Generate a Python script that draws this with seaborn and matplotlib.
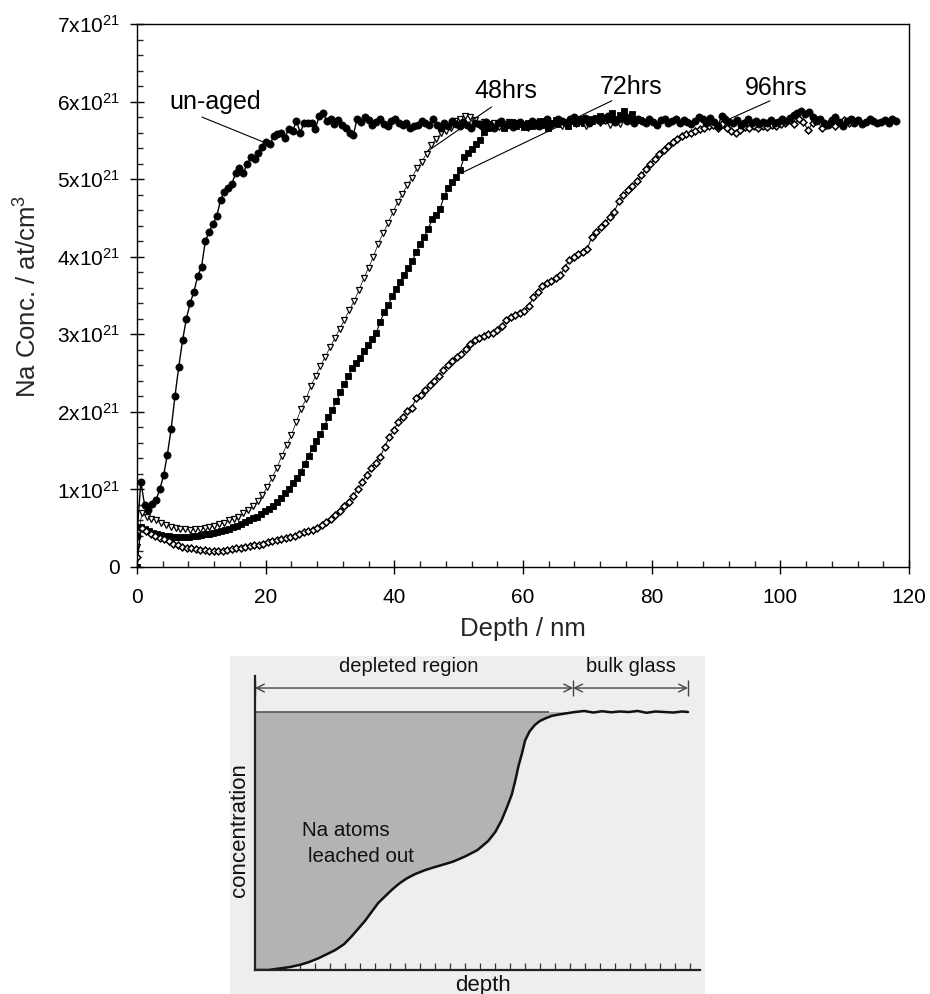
import numpy as np
import matplotlib
matplotlib.use("Agg")
import matplotlib.pyplot as plt
import seaborn as sns
from matplotlib.ticker import MultipleLocator, FixedLocator, NullFormatter

# ---------------- data (Na concentration in units of 1e19 at/cm^3) ----------------
UNAGED_STEP = 0.59   # nm between sputter points
unaged_conc = [
    40, 110, 80, 74, 81, 86, 100, 118, 145, 178, 220, 258, 292, 320, 340, 355, 375, 387, 420, 432,
    442, 452, 473, 484, 488, 494, 508, 514, 508, 519, 528, 526, 534, 542, 548, 545, 555, 558, 559, 553,
    565, 562, 575, 560, 572, 572, 572, 564, 582, 585, 575, 578, 571, 576, 570, 566, 560, 557, 578, 574,
    580, 576, 570, 574, 578, 571, 568, 575, 578, 572, 570, 572, 566, 568, 570, 575, 572, 570, 578, 570,
    566, 572, 569, 575, 571, 568, 574, 570, 566, 573, 571, 568, 574, 570, 566, 572, 575, 569, 572, 567,
    571, 574, 570, 568, 575, 572, 569, 574, 577, 571, 573, 578, 575, 572, 577, 580, 574, 576, 579, 573,
    576, 578, 575, 579, 582, 577, 574, 578, 580, 575, 577, 572, 578, 575, 572, 577, 574, 570, 576, 578,
    572, 575, 578, 573, 576, 574, 571, 575, 580, 577, 573, 579, 574, 568, 581, 578, 574, 572, 576, 570,
    573, 577, 572, 575, 571, 574, 573, 576, 572, 574, 578, 575, 579, 583, 585, 588, 584, 587, 580, 575,
    578, 573, 570, 576, 580, 574, 569, 575, 578, 572, 576, 571, 574, 578, 575, 572, 574, 576, 573, 577,
    575,
]

H48_STEP = 0.75
h48_conc = [
    26, 70, 65, 62, 60, 57, 54, 52, 50, 49, 49, 48, 49, 49, 50, 51, 53, 55, 57, 60,
    62, 65, 69, 73, 78, 85, 93, 103, 115, 128, 143, 157, 170, 187, 204, 216, 233, 246, 259, 271,
    283, 295, 307, 319, 331, 343, 357, 372, 386, 400, 417, 430, 443, 457, 470, 481, 492, 502, 514, 522,
    533, 544, 552, 559, 562, 566, 575, 578, 582, 580, 576, 571, 574, 569, 572, 567, 571, 574, 568, 572,
    570, 566, 573, 569, 572, 575, 570, 574, 568, 572, 576, 571, 574, 569, 573, 577, 572, 575, 570, 574,
    571,
]

H72_STEP = 0.62
h72_conc = [
    0, 52, 49, 47, 44, 42, 41, 40, 40, 39, 39, 39, 39, 39, 40, 40, 41, 42, 43, 44,
    45, 46, 48, 49, 51, 53, 56, 58, 60, 63, 65, 68, 72, 75, 79, 84, 89, 95, 101, 108,
    115, 122, 133, 143, 153, 163, 172, 182, 193, 203, 214, 225, 236, 246, 256, 263, 270, 278, 286, 294,
    302, 316, 329, 338, 349, 358, 368, 377, 385, 394, 406, 416, 426, 436, 448, 454, 462, 478, 488, 496,
    503, 512, 528, 534, 539, 545, 550, 561, 566, 571, 568, 572, 566, 570, 574, 568, 571, 567, 573, 569,
    572, 575, 570, 566, 572, 576, 571, 574, 569, 575, 573, 577, 572, 578, 575, 579, 582, 576, 580, 585,
    578, 583, 588, 580, 584, 578, 576,
]

H96_STEP = 0.70
h96_conc = [
    13, 50, 46, 43, 40, 38, 36, 33, 30, 28, 26, 25, 24, 23, 22, 22, 21, 21, 21, 21,
    22, 23, 24, 25, 26, 27, 28, 29, 30, 32, 33, 35, 36, 37, 39, 40, 42, 45, 46, 48,
    50, 54, 58, 62, 67, 72, 78, 84, 92, 100, 109, 119, 127, 134, 142, 155, 167, 176, 187, 193,
    201, 205, 218, 222, 228, 234, 240, 246, 254, 260, 266, 271, 275, 281, 287, 292, 295, 298, 300, 302,
    306, 311, 319, 322, 325, 327, 330, 336, 348, 355, 362, 366, 369, 372, 376, 386, 396, 400, 403, 406,
    410, 426, 432, 438, 444, 451, 458, 472, 479, 486, 491, 497, 505, 513, 520, 526, 532, 537, 543, 548,
    552, 556, 558, 560, 562, 564, 566, 568, 570, 566, 571, 566, 562, 559, 563, 567, 566, 568, 566, 569,
    567, 570, 568, 571, 573, 576, 571, 578, 574, 563, 572, 576, 566, 570, 575, 568, 573, 576, 572, 576,
]

series_labels = ["un-aged", "48hrs", "72hrs", "96hrs"]
# label anchor (depth, conc) and leader line (from, to) in data units (conc in 1e21)
label_pos = {"un-aged": (5.0, 5.91), "48hrs": (52.5, 6.04), "72hrs": (72.0, 6.10), "96hrs": (94.5, 6.08)}
leader = {"un-aged": ((10.1, 5.80), (19.6, 5.48)),
          "48hrs": ((55.1, 5.93), (45.0, 5.35)),
          "72hrs": ((73.8, 6.01), (50.7, 5.09)),
          "96hrs": ((98.4, 6.01), (92.2, 5.78))}

x_ticks = [0, 20, 40, 60, 80, 100, 120]
y_ticks = [0, 1, 2, 3, 4, 5, 6, 7]
y_tick_labels = ["0"] + [f"{v}x10$^{{21}}$" for v in y_ticks[1:]]

# schematic inset profile (depth arbitrary 0-100, concentration relative to bulk = 1)
schem_depth = [0, 3, 5.6, 8, 10.1, 12, 14.2, 16, 18, 20, 21.7, 23.2, 24.7, 26.2, 27.7, 29.2, 30.7,
               32.4, 34.1, 36, 38.2, 40, 42, 44.5, 47.2, 50, 52.4, 54, 55.4, 56.6, 57.7, 58.5, 59.2,
               60, 60.7, 61.7, 62.9, 64, 65.2, 66.7, 68.2, 70, 71.9, 74, 76, 78, 80, 82, 84, 86, 88,
               90, 92, 94, 96, 97.3]
schem_conc = [0, 0, 0.006, 0.012, 0.02, 0.03, 0.045, 0.06, 0.077, 0.10, 0.13, 0.16, 0.19, 0.225,
              0.26, 0.285, 0.31, 0.335, 0.355, 0.372, 0.387, 0.397, 0.407, 0.42, 0.44, 0.465, 0.50,
              0.535, 0.58, 0.63, 0.68, 0.735, 0.79, 0.84, 0.89, 0.925, 0.95, 0.965, 0.975, 0.985,
              0.99, 0.995, 1.0, 1.004, 0.998, 1.003, 0.999, 1.002, 1.0, 1.004, 0.997, 1.002, 1.0,
              0.998, 1.002, 1.0]
bulk_level = 1.0
depleted_end = 71.5
profile_end = 97.3

# ---------------- figure ----------------
sns.set_theme(style="ticks")
plt.rcParams["font.family"] = ["Liberation Sans", "DejaVu Sans"]
plt.rcParams["mathtext.default"] = "regular"

W, H = 930, 994
fig = plt.figure(figsize=(W / 100, H / 100), dpi=100)
fig.patch.set_facecolor("white")

ax = fig.add_axes([137 / W, 1 - 567 / H, 772 / W, 543 / H])

def depth(conc, step):
    return np.arange(len(conc)) * step

def conc21(conc):
    return np.asarray(conc) / 100.0

common = dict(ax=ax, color="black", estimator=None, sort=False, legend=False)
sns.lineplot(x=depth(h72_conc, H72_STEP), y=conc21(h72_conc), lw=0.8, marker="s", markersize=4.6,
             markerfacecolor="black", markeredgecolor="black", markeredgewidth=0.6, **common)
sns.lineplot(x=depth(h48_conc, H48_STEP), y=conc21(h48_conc), lw=0.5, marker="v", markersize=5.0,
             markerfacecolor="white", markeredgecolor="black", markeredgewidth=0.9, **common)
sns.lineplot(x=depth(h96_conc, H96_STEP), y=conc21(h96_conc), lw=0.7, marker="D", markersize=3.5,
             markerfacecolor="white", markeredgecolor="black", markeredgewidth=1.1, **common)
sns.lineplot(x=depth(unaged_conc, UNAGED_STEP), y=conc21(unaged_conc), lw=1.0, marker="o",
             markersize=5.2, markerfacecolor="black", markeredgecolor="black", markeredgewidth=0.5,
             **common)

for name in series_labels:
    (x0, y0), (x1, y1) = leader[name]
    ax.plot([x0, x1], [y0, y1], color="black", lw=0.8)
    ax.text(*label_pos[name], name, fontsize=18, ha="left", va="baseline", color="black")

ax.set_xlim(0, 120)
ax.set_ylim(0, 7)
ax.xaxis.set_major_locator(FixedLocator(x_ticks))
ax.xaxis.set_minor_locator(MultipleLocator(4))
ax.yaxis.set_major_locator(FixedLocator(y_ticks))
ax.yaxis.set_minor_locator(MultipleLocator(0.2))
ax.set_xticklabels([str(v) for v in x_ticks])
ax.set_yticklabels(y_tick_labels)
ax.tick_params(which="major", direction="inout", length=10, width=1.0, labelsize=15,
               colors="black", top=False, right=False)
ax.tick_params(axis="x", which="major", pad=10)
ax.tick_params(axis="y", which="major", pad=7)
ax.tick_params(which="minor", direction="in", length=4, width=1.0, top=False, right=False)
for s in ax.spines.values():
    s.set_visible(True)
    s.set_color("black")
    s.set_linewidth(1.0)
ax.set_xlabel("")
ax.set_ylabel("")
fig.text(523 / W, 1 - 629 / H, "Depth / nm", fontsize=18.5, ha="center", va="center")
fig.text(28 / W, 1 - 296 / H, "Na Conc. / at/cm$^3$", fontsize=18.5, ha="center", va="center",
         rotation=90)

# ---------------- schematic inset ----------------
bg_ax = fig.add_axes([230 / W, 0, 475 / W, 338 / H], zorder=-1)
bg_ax.set_facecolor("#eeeeee")
bg_ax.set_xticks([])
bg_ax.set_yticks([])
for s in bg_ax.spines.values():
    s.set_visible(False)

iax = fig.add_axes([255 / W, 1 - 970 / H, 445 / W, 315 / H], zorder=2)
iax.set_facecolor("none")
iax.set_xlim(0, 100)
iax.set_ylim(0, 1.221)
sx = np.asarray(schem_depth)
sy = np.asarray(schem_conc)
iax.fill_between(sx, sy, bulk_level, where=sy < bulk_level, interpolate=True, color="#b3b3b3", lw=0)
iax.hlines(bulk_level, 0, 66, color="#555555", lw=1.2)
sns.lineplot(x=sx, y=sy, ax=iax, color="#111111", lw=1.8, estimator=None, sort=False, legend=False)

arrow_y = 1.093
for a, b in [(0, depleted_end), (depleted_end, profile_end)]:
    iax.annotate("", xy=(a, arrow_y), xytext=(b, arrow_y),
                 arrowprops=dict(arrowstyle="<->", lw=1.0, color="#444444", shrinkA=0, shrinkB=0,
                                 mutation_scale=14))
iax.vlines([0, depleted_end, profile_end], arrow_y - 0.03, arrow_y + 0.03, color="#444444", lw=1.0,
           clip_on=False)
iax.text(34.5, 1.175, "depleted region", fontsize=14.5, ha="center", va="center", color="#111111")
iax.text(84.5, 1.178, "bulk glass", fontsize=14.5, ha="center", va="center", color="#111111")
iax.text(10.5, 0.54, "Na atoms", fontsize=14.8, ha="left", va="center", color="#111111")
iax.text(11.8, 0.44, "leached out", fontsize=14.8, ha="left", va="center", color="#111111")
iax.text(-0.034, 0.444, "concentration", fontsize=16, rotation=90, ha="center", va="center",
         color="#111111", transform=iax.transAxes)
iax.text(0.512, -0.048, "depth", fontsize=16, ha="center", va="center", color="#111111",
         transform=iax.transAxes)

iax.xaxis.set_major_locator(FixedLocator(np.arange(3.37, 100, 3.37)))
iax.yaxis.set_major_locator(FixedLocator(np.arange(0.035, 1.0, 0.035)))
iax.xaxis.set_major_formatter(NullFormatter())
iax.yaxis.set_major_formatter(NullFormatter())
iax.tick_params(direction="in", length=5, width=0.9, colors="#333333", top=False, right=False)
for k in ["top", "right"]:
    iax.spines[k].set_visible(False)
for k in ["left", "bottom"]:
    iax.spines[k].set_color("#222222")
    iax.spines[k].set_linewidth(1.6)
iax.spines["left"].set_bounds(0, 1.14)
iax.set_xlabel("")
iax.set_ylabel("")

fig.savefig("out.png", dpi=100, facecolor="white")
